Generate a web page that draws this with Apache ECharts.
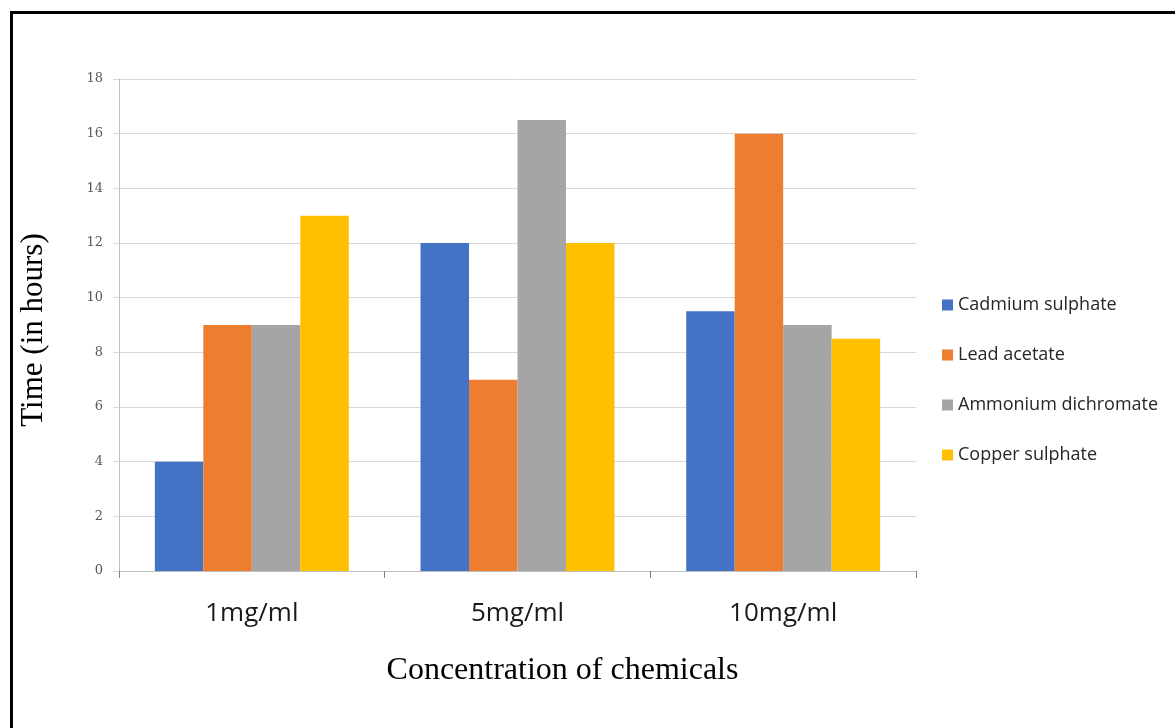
<!DOCTYPE html>
<html><head><meta charset="utf-8">
<script src="https://cdn.jsdelivr.net/npm/echarts@6/dist/echarts.min.js"></script>
<style>html,body{margin:0;padding:0;background:#fff}#c{width:1175px;height:728px}</style>
</head><body><div id="c"></div>
<script>
var categories = ['1mg/ml', '5mg/ml', '10mg/ml'];
var seriesNames = ['Cadmium sulphate', 'Lead acetate', 'Ammonium dichromate', 'Copper sulphate'];
var cadmium = [4, 12, 9.5];
var lead = [9, 7, 16];
var ammonium = [9, 16.5, 9];
var copper = [13, 12, 8.5];
var colors = ['#4472C4', '#ED7D31', '#A5A5A5', '#FFC000'];
var yTicks = [0, 2, 4, 6, 8, 10, 12, 14, 16, 18];

var values = [cadmium, lead, ammonium, copper];
var chart = echarts.init(document.getElementById('c'));
chart.setOption({
  animation: false,
  color: colors,
  graphic: [{
    type: 'rect', shape: {x: 11.5, y: 12.5, width: 1200, height: 800},
    style: {fill: 'none', stroke: '#000', lineWidth: 3}, silent: true, z: 100
  }],
  grid: {left: 119, right: 259, top: 79, bottom: 157},
  legend: {
    orient: 'vertical', left: 937, top: 290, itemGap: 30, itemWidth: 11, itemHeight: 11,
    icon: 'rect',
    textStyle: {fontFamily: 'Open Sans', fontSize: 18, lineHeight: 20, color: '#262626'},
    data: seriesNames
  },
  xAxis: {
    type: 'category', data: categories,
    name: 'Concentration of chemicals', nameLocation: 'middle', nameGap: 84,
    nameTextStyle: {fontFamily: 'Liberation Serif', fontSize: 32, color: '#000', padding: [0, 0, 0, 90]},
    axisLine: {lineStyle: {color: '#bfbfbf'}},
    axisTick: {show: true, length: 7, lineStyle: {color: '#808080'}},
    axisLabel: {fontFamily: 'Open Sans', fontSize: 26, color: '#1a1a1a', margin: 30}
  },
  yAxis: {
    type: 'value', min: 0, max: 18, interval: 2,
    name: 'Time (in hours)', nameLocation: 'middle', nameGap: 70,
    nameTextStyle: {fontFamily: 'Liberation Serif', fontSize: 31, color: '#000', padding: [0, 10, 0, 0]},
    axisLine: {show: true, lineStyle: {color: '#bfbfbf'}},
    axisTick: {show: true, length: 6, lineStyle: {color: '#d9d9d9'}},
    axisLabel: {fontFamily: 'DejaVu Serif', fontSize: 13, color: '#595959', margin: 16,
      formatter: function (v) { return yTicks.indexOf(v) >= 0 ? String(v) : ''; }},
    splitLine: {lineStyle: {color: '#d9d9d9'}}
  },
  series: seriesNames.map(function (n, i) {
    return {name: n, type: 'bar', data: values[i], barGap: '0%', barCategoryGap: '27%'};
  })
});
</script></body></html>
